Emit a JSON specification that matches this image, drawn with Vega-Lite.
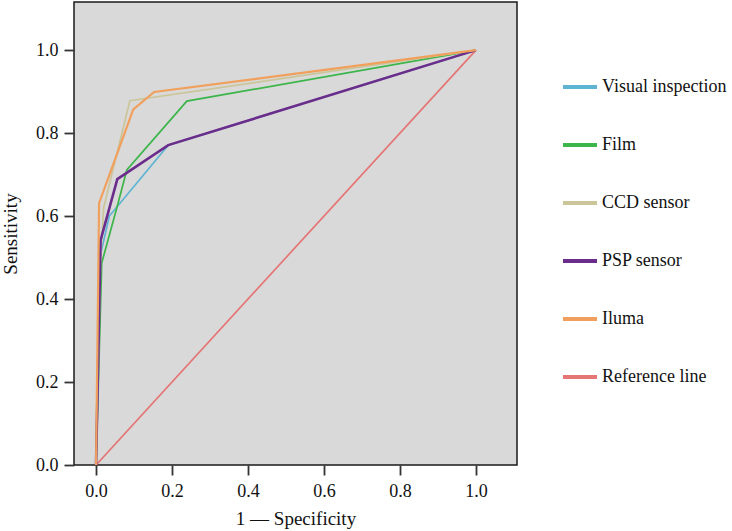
{
  "$schema": "https://vega.github.io/schema/vega-lite/v6.json",
  "width": 443,
  "height": 463,
  "autosize": "none",
  "padding": {"left": 74, "top": 2, "right": 215, "bottom": 66},
  "background": "white",
  "config": {
    "view": {"fill": "#d9d9d9", "stroke": "#1a1a1a", "strokeWidth": 1.5},
    "font": "Liberation Serif",
    "axis": {
      "grid": false,
      "domain": false,
      "tickColor": "#333333",
      "tickWidth": 1.8,
      "tickSize": 10,
      "labelFont": "Liberation Serif",
      "labelFontSize": 18,
      "labelColor": "#111111",
      "titleFont": "Liberation Serif",
      "titleFontSize": 19,
      "titleFontWeight": "normal",
      "titleColor": "#111111"
    },
    "legend": {
      "labelFont": "Liberation Serif",
      "labelFontSize": 18,
      "labelColor": "#111111"
    }
  },
  "data": {
    "values": [
      {"series": "Reference line", "i": 0, "fpr": 0, "tpr": 0},
      {"series": "Reference line", "i": 1, "fpr": 1, "tpr": 1},
      {"series": "Visual inspection", "i": 0, "fpr": 0, "tpr": 0},
      {"series": "Visual inspection", "i": 1, "fpr": 0.01, "tpr": 0.5},
      {"series": "Visual inspection", "i": 2, "fpr": 0.035, "tpr": 0.6},
      {"series": "Visual inspection", "i": 3, "fpr": 0.063, "tpr": 0.631},
      {"series": "Visual inspection", "i": 4, "fpr": 0.19, "tpr": 0.771},
      {"series": "Visual inspection", "i": 5, "fpr": 1, "tpr": 1},
      {"series": "Film", "i": 0, "fpr": 0, "tpr": 0},
      {"series": "Film", "i": 1, "fpr": 0.015, "tpr": 0.487},
      {"series": "Film", "i": 2, "fpr": 0.058, "tpr": 0.631},
      {"series": "Film", "i": 3, "fpr": 0.081, "tpr": 0.711},
      {"series": "Film", "i": 4, "fpr": 0.239, "tpr": 0.877},
      {"series": "Film", "i": 5, "fpr": 1, "tpr": 1},
      {"series": "CCD sensor", "i": 0, "fpr": 0, "tpr": 0},
      {"series": "CCD sensor", "i": 1, "fpr": 0.012, "tpr": 0.5},
      {"series": "CCD sensor", "i": 2, "fpr": 0.02, "tpr": 0.62},
      {"series": "CCD sensor", "i": 3, "fpr": 0.089, "tpr": 0.878},
      {"series": "CCD sensor", "i": 4, "fpr": 1, "tpr": 1},
      {"series": "PSP sensor", "i": 0, "fpr": 0, "tpr": 0},
      {"series": "PSP sensor", "i": 1, "fpr": 0.012, "tpr": 0.542},
      {"series": "PSP sensor", "i": 2, "fpr": 0.056, "tpr": 0.689},
      {"series": "PSP sensor", "i": 3, "fpr": 0.19, "tpr": 0.771},
      {"series": "PSP sensor", "i": 4, "fpr": 1, "tpr": 1},
      {"series": "Iluma", "i": 0, "fpr": 0, "tpr": 0},
      {"series": "Iluma", "i": 1, "fpr": 0.008, "tpr": 0.631},
      {"series": "Iluma", "i": 2, "fpr": 0.098, "tpr": 0.857},
      {"series": "Iluma", "i": 3, "fpr": 0.153, "tpr": 0.899},
      {"series": "Iluma", "i": 4, "fpr": 1, "tpr": 1}
    ]
  },
  "encoding": {
    "x": {
      "field": "fpr", "type": "quantitative",
      "title": "1 — Specificity",
      "scale": {"domain": [-0.058, 1.108], "nice": false, "zero": false},
      "axis": {"values": [0, 0.2, 0.4, 0.6, 0.8, 1.0], "format": ".1f", "labelPadding": 7, "titleY": 44}
    },
    "y": {
      "field": "tpr", "type": "quantitative",
      "title": "Sensitivity",
      "scale": {"domain": [0, 1.116], "nice": false},
      "axis": {"values": [0, 0.2, 0.4, 0.6, 0.8, 1.0], "format": ".1f", "labelPadding": 6, "titleX": -54}
    },
    "order": {"field": "i", "type": "quantitative"},
    "color": {
      "field": "series", "type": "nominal",
      "scale": {
        "domain": ["Visual inspection", "Film", "CCD sensor", "PSP sensor", "Iluma", "Reference line"],
        "range": ["#5fb4d4", "#3cb54a", "#cbc59a", "#6b2d8b", "#f0a05c", "#e57575"]
      },
      "legend": {
        "title": null,
        "orient": "none",
        "legendX": 487,
        "legendY": 66,
        "symbolType": "stroke",
        "symbolSize": 1156,
        "symbolStrokeWidth": 4,
        "rowPadding": 30,
        "labelOffset": 3
      }
    }
  },
  "layer": [
    {
      "transform": [{"filter": "datum.series !== 'PSP sensor' && datum.series !== 'Iluma'"}],
      "mark": {"type": "line", "clip": true, "strokeWidth": 1.7}
    },
    {
      "transform": [{"filter": "datum.series === 'PSP sensor'"}],
      "mark": {"type": "line", "clip": true, "strokeWidth": 2.6}
    },
    {
      "transform": [{"filter": "datum.series === 'Iluma'"}],
      "mark": {"type": "line", "clip": true, "strokeWidth": 2.2}
    }
  ]
}
